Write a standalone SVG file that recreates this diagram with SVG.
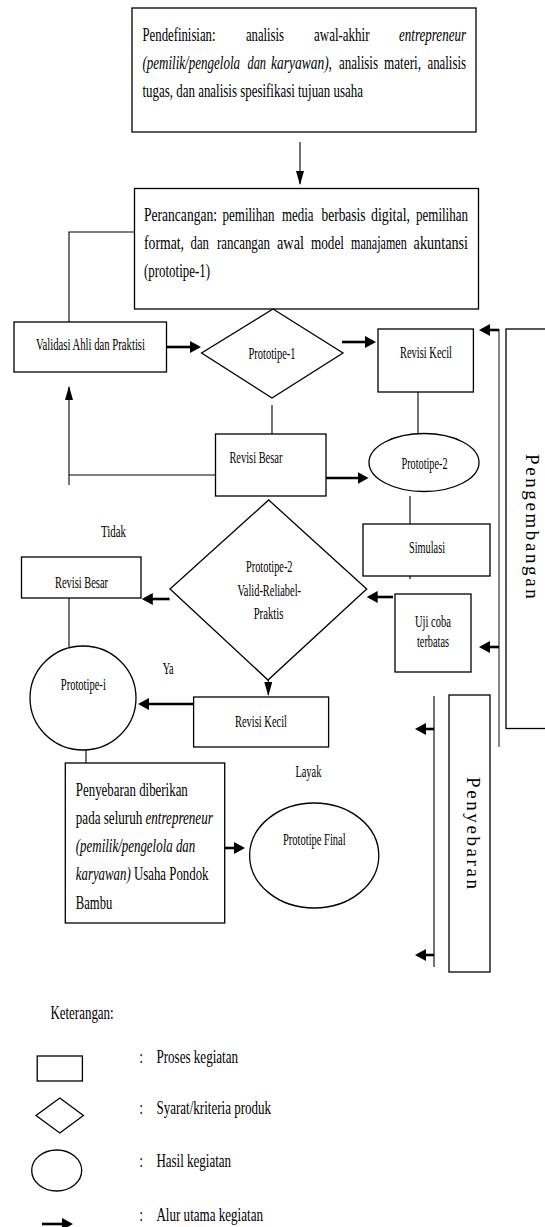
<svg xmlns="http://www.w3.org/2000/svg" width="545" height="1227" viewBox="0 0 545 1227">
<style>
.box{fill:#fff;stroke:#000;stroke-width:1.3}
.ln{fill:none;stroke:#000;stroke-width:1.1}
.thk{fill:none;stroke:#000;stroke-width:2.6}
.gr{fill:none;stroke:#555;stroke-width:1.4}
text{font-family:"Liberation Serif","Times New Roman",serif;fill:#000}
.b{font-size:12.7px}
.s{font-size:10.7px}
.lg{font-size:12px}
.v{font-size:19px;letter-spacing:2.6px}
.i{font-style:italic}
</style>
<defs>
<marker id="ah" markerUnits="userSpaceOnUse" markerWidth="12" markerHeight="12" refX="8" refY="6" orient="auto"><path d="M0,0 L11,6 L0,12 z" fill="#000"/></marker>
<marker id="at" markerUnits="userSpaceOnUse" markerWidth="14" markerHeight="8" refX="13" refY="4" orient="auto"><path d="M0,0 L14,4 L0,8 z" fill="#000"/></marker>
</defs>
<rect width="545" height="1227" fill="#fff"/>

<g id="connectors">
<line class="ln" x1="300" y1="142" x2="300" y2="184" marker-end="url(#at)"/>
<polyline class="ln" points="134.5,232 69,232 69,322"/>
<line class="thk" x1="167" y1="347" x2="198" y2="347" marker-end="url(#ah)"/>
<line class="thk" x1="342" y1="342" x2="373" y2="342" marker-end="url(#ah)"/>
<line class="ln" x1="418" y1="375" x2="418" y2="433"/>
<line class="ln" x1="272" y1="405" x2="272" y2="434"/>
<line class="ln" x1="215.5" y1="475" x2="69" y2="475"/>
<line class="ln" x1="69" y1="485" x2="69" y2="387" marker-end="url(#at)"/>
<line class="thk" x1="326" y1="478" x2="365.5" y2="478" marker-end="url(#ah)"/>
<line class="ln" x1="410" y1="496" x2="410" y2="524"/>
<line class="ln" x1="410" y1="576" x2="410" y2="579"/>
<line class="thk" x1="169.6" y1="599" x2="144.8" y2="599" marker-end="url(#ah)"/>
<line class="thk" x1="393" y1="597" x2="369.7" y2="597" marker-end="url(#ah)"/>
<line class="ln" x1="69" y1="598" x2="69" y2="647"/>
<line class="ln" x1="268.3" y1="665" x2="268.3" y2="695" marker-end="url(#at)"/>
<line class="thk" x1="193.6" y1="704" x2="141" y2="704" marker-end="url(#ah)"/>
<line class="ln" x1="86" y1="737" x2="86" y2="763"/>
<line class="thk" x1="225" y1="848" x2="242" y2="848" marker-end="url(#ah)"/>
<line class="gr" x1="499" y1="329" x2="499" y2="747"/>
<line class="thk" x1="499" y1="330" x2="482" y2="330" marker-end="url(#ah)"/>
<line class="thk" x1="499" y1="647" x2="482" y2="647" marker-end="url(#ah)"/>
<line class="ln" x1="434" y1="696" x2="434" y2="967"/>
<line class="thk" x1="434" y1="729" x2="418" y2="729" marker-end="url(#ah)"/>
<line class="thk" x1="434" y1="955" x2="418" y2="955" marker-end="url(#ah)"/>
</g>

<g id="pendefinisian">
<rect class="box" x="132" y="8" width="344" height="124"/>
<text class="b" transform="translate(142.5,41) scale(1,1.5)" textLength="73" lengthAdjust="spacingAndGlyphs">Pendefinisian:</text>
<text class="b" transform="translate(246,41) scale(1,1.5)" textLength="38" lengthAdjust="spacingAndGlyphs">analisis</text>
<text class="b" transform="translate(314,41) scale(1,1.5)" textLength="55.5" lengthAdjust="spacingAndGlyphs">awal-akhir</text>
<text class="b i" transform="translate(399,41) scale(1,1.5)" textLength="67" lengthAdjust="spacingAndGlyphs">entrepreneur</text>
<text class="b i" transform="translate(142.5,69) scale(1,1.5)" textLength="97.5" lengthAdjust="spacingAndGlyphs">(pemilik/pengelola</text>
<text class="b i" transform="translate(247.5,69) scale(1,1.5)" textLength="18.5" lengthAdjust="spacingAndGlyphs">dan</text>
<text class="b" transform="translate(271,69) scale(1,1.5)" textLength="61" lengthAdjust="spacingAndGlyphs"><tspan class="i">karyawan)</tspan>,</text>
<text class="b" transform="translate(339,69) scale(1,1.5)" textLength="39" lengthAdjust="spacingAndGlyphs">analisis</text>
<text class="b" transform="translate(384,69) scale(1,1.5)" textLength="37" lengthAdjust="spacingAndGlyphs">materi,</text>
<text class="b" transform="translate(427.5,69) scale(1,1.5)" textLength="38.5" lengthAdjust="spacingAndGlyphs">analisis</text>
<text class="b" transform="translate(142.5,97) scale(1,1.5)" textLength="220.5" lengthAdjust="spacingAndGlyphs">tugas, dan analisis spesifikasi tujuan usaha</text>
</g>

<g id="perancangan">
<rect class="box" x="134.5" y="188.5" width="344" height="120.5"/>
<text class="b" transform="translate(144,221) scale(1,1.5)" textLength="73" lengthAdjust="spacingAndGlyphs">Perancangan:</text>
<text class="b" transform="translate(222.5,221) scale(1,1.5)" textLength="52" lengthAdjust="spacingAndGlyphs">pemilihan</text>
<text class="b" transform="translate(282,221) scale(1,1.5)" textLength="31.5" lengthAdjust="spacingAndGlyphs">media</text>
<text class="b" transform="translate(321.5,221) scale(1,1.5)" textLength="44" lengthAdjust="spacingAndGlyphs">berbasis</text>
<text class="b" transform="translate(371,221) scale(1,1.5)" textLength="39" lengthAdjust="spacingAndGlyphs">digital,</text>
<text class="b" transform="translate(416,221) scale(1,1.5)" textLength="52" lengthAdjust="spacingAndGlyphs">pemilihan</text>
<text class="b" transform="translate(144,249) scale(1,1.5)" textLength="40" lengthAdjust="spacingAndGlyphs">format,</text>
<text class="b" transform="translate(190.5,249) scale(1,1.5)" textLength="18.5" lengthAdjust="spacingAndGlyphs">dan</text>
<text class="b" transform="translate(217,249) scale(1,1.5)" textLength="53" lengthAdjust="spacingAndGlyphs">rancangan</text>
<text class="b" transform="translate(277,249) scale(1,1.5)" textLength="27" lengthAdjust="spacingAndGlyphs">awal</text>
<text class="b" transform="translate(311,249) scale(1,1.5)" textLength="33" lengthAdjust="spacingAndGlyphs">model</text>
<text class="b" transform="translate(351,249) scale(1,1.5)" textLength="55.7" lengthAdjust="spacingAndGlyphs">manajamen</text>
<text class="b" transform="translate(413.6,249) scale(1,1.5)" textLength="54.4" lengthAdjust="spacingAndGlyphs">akuntansi</text>
<text class="b" transform="translate(144,277) scale(1,1.5)" textLength="66" lengthAdjust="spacingAndGlyphs">(prototipe-1)</text>
</g>

<g id="validasi">
<rect class="box" x="14" y="322" width="152.5" height="50"/>
<text class="s" transform="translate(36,350) scale(1,1.5)" textLength="109" lengthAdjust="spacingAndGlyphs">Validasi Ahli dan Praktisi</text>
</g>

<g id="prototipe1">
<polygon class="box" points="273,309 343,353 272,398 201.6,353"/>
<text class="s" transform="translate(248.5,359) scale(1,1.5)" textLength="47" lengthAdjust="spacingAndGlyphs">Prototipe-1</text>
</g>

<g id="revisi-kecil-1">
<rect class="box" x="378" y="329" width="95.4" height="63"/>
<text class="s" transform="translate(400,358) scale(1,1.5)" textLength="52" lengthAdjust="spacingAndGlyphs">Revisi Kecil</text>
</g>

<g id="revisi-besar-1">
<rect class="box" x="215.5" y="434" width="110.5" height="62"/>
<text class="s" transform="translate(229.4,463) scale(1,1.5)" textLength="53" lengthAdjust="spacingAndGlyphs">Revisi Besar</text>
</g>

<g id="prototipe2">
<ellipse class="box" cx="424" cy="462.5" rx="55" ry="29"/>
<text class="s" transform="translate(401.5,469) scale(1,1.5)" textLength="46" lengthAdjust="spacingAndGlyphs">Prototipe-2</text>
</g>

<g id="simulasi">
<rect class="box" x="363" y="524" width="127" height="52"/>
<text class="s" transform="translate(409,553) scale(1,1.5)" textLength="36" lengthAdjust="spacingAndGlyphs">Simulasi</text>
</g>

<g id="label-tidak">
<text class="s" transform="translate(101,537) scale(1,1.5)" textLength="25" lengthAdjust="spacingAndGlyphs">Tidak</text>
</g>

<g id="revisi-besar-2">
<rect class="box" x="21.5" y="557" width="119.5" height="41"/>
<text class="s" transform="translate(55,588) scale(1,1.5)" textLength="53" lengthAdjust="spacingAndGlyphs">Revisi Besar</text>
</g>

<g id="kriteria">
<polygon class="box" points="268.7,500 366.7,589 268,680 170,589"/>
<text class="s" transform="translate(246,572) scale(1,1.5)" textLength="46.5" lengthAdjust="spacingAndGlyphs">Prototipe-2</text>
<text class="s" transform="translate(237.4,596) scale(1,1.5)" textLength="63.6" lengthAdjust="spacingAndGlyphs">Valid-Reliabel-</text>
<text class="s" transform="translate(253.7,619) scale(1,1.5)" textLength="29.6" lengthAdjust="spacingAndGlyphs">Praktis</text>
</g>

<g id="uji-coba">
<rect class="box" x="395" y="594" width="76" height="78"/>
<text class="s" transform="translate(415,627) scale(1,1.5)" textLength="36" lengthAdjust="spacingAndGlyphs">Uji coba</text>
<text class="s" transform="translate(417,647) scale(1,1.5)" textLength="32" lengthAdjust="spacingAndGlyphs">terbatas</text>
</g>

<g id="label-ya">
<text class="s" transform="translate(162.7,674) scale(1,1.5)" textLength="11" lengthAdjust="spacingAndGlyphs">Ya</text>
</g>

<g id="prototipe-i">
<ellipse class="box" cx="83" cy="698" rx="53" ry="52"/>
<text class="s" transform="translate(60.8,690) scale(1,1.5)" textLength="45" lengthAdjust="spacingAndGlyphs">Prototipe-i</text>
</g>

<g id="revisi-kecil-2">
<rect class="box" x="193.6" y="697" width="135" height="50"/>
<text class="s" transform="translate(235,727) scale(1,1.5)" textLength="52" lengthAdjust="spacingAndGlyphs">Revisi Kecil</text>
</g>

<g id="penyebaran-box">
<rect class="box" x="65.3" y="763" width="159.4" height="160"/>
<text class="b" transform="translate(75.8,796) scale(1,1.5)" textLength="112" lengthAdjust="spacingAndGlyphs">Penyebaran diberikan</text>
<text class="b" transform="translate(75.8,824) scale(1,1.5)" textLength="137" lengthAdjust="spacingAndGlyphs">pada seluruh <tspan class="i">entrepreneur</tspan></text>
<text class="b i" transform="translate(75.8,852) scale(1,1.5)" textLength="119.5" lengthAdjust="spacingAndGlyphs">(pemilik/pengelola dan</text>
<text class="b" transform="translate(75.8,880) scale(1,1.5)" textLength="132.7" lengthAdjust="spacingAndGlyphs"><tspan class="i">karyawan)</tspan> Usaha Pondok</text>
<text class="b" transform="translate(75.8,909) scale(1,1.5)" textLength="36.5" lengthAdjust="spacingAndGlyphs">Bambu</text>
</g>

<g id="label-layak">
<text class="s" transform="translate(295.4,777) scale(1,1.5)" textLength="26" lengthAdjust="spacingAndGlyphs">Layak</text>
</g>

<g id="prototipe-final">
<ellipse class="box" cx="314.2" cy="855.5" rx="64.6" ry="52.5"/>
<text class="s" transform="translate(283,845) scale(1,1.5)" textLength="62.6" lengthAdjust="spacingAndGlyphs">Prototipe Final</text>
</g>

<g id="pengembangan">
<rect class="box" x="506" y="329" width="50" height="399.5"/>
<text class="v" transform="translate(525.5,454) rotate(90)" x="0" y="0">Pengembangan</text>
</g>

<g id="penyebaran-phase">
<rect class="box" x="449" y="695" width="41" height="277"/>
<text class="v" transform="translate(466.5,777) rotate(90)" x="0" y="0">Penyebaran</text>
</g>

<g id="legend">
<text class="lg" transform="translate(50.4,1019) scale(1,1.5)" textLength="63.3" lengthAdjust="spacingAndGlyphs">Keterangan:</text>
<rect class="box" x="37.2" y="1056" width="45.2" height="25"/>
<text class="lg" transform="translate(139.5,1063) scale(1,1.5)">:</text>
<text class="lg" transform="translate(156.4,1063) scale(1,1.5)" textLength="81.7" lengthAdjust="spacingAndGlyphs">Proses kegiatan</text>
<polygon class="box" points="59.8,1098 83.4,1115.5 59.8,1133 36,1115.5"/>
<text class="lg" transform="translate(139.5,1114) scale(1,1.5)">:</text>
<text class="lg" transform="translate(156.4,1114) scale(1,1.5)" textLength="114.7" lengthAdjust="spacingAndGlyphs">Syarat/kriteria produk</text>
<ellipse class="box" cx="56.7" cy="1170.5" rx="25" ry="20.5"/>
<text class="lg" transform="translate(139.5,1167) scale(1,1.5)">:</text>
<text class="lg" transform="translate(156.4,1167) scale(1,1.5)" textLength="74.7" lengthAdjust="spacingAndGlyphs">Hasil kegiatan</text>
<line class="thk" x1="42" y1="1224" x2="70" y2="1224" marker-end="url(#ah)"/>
<text class="lg" transform="translate(139.5,1221) scale(1,1.5)">:</text>
<text class="lg" transform="translate(156.4,1221) scale(1,1.5)" textLength="106.6" lengthAdjust="spacingAndGlyphs">Alur utama kegiatan</text>
</g>
</svg>
